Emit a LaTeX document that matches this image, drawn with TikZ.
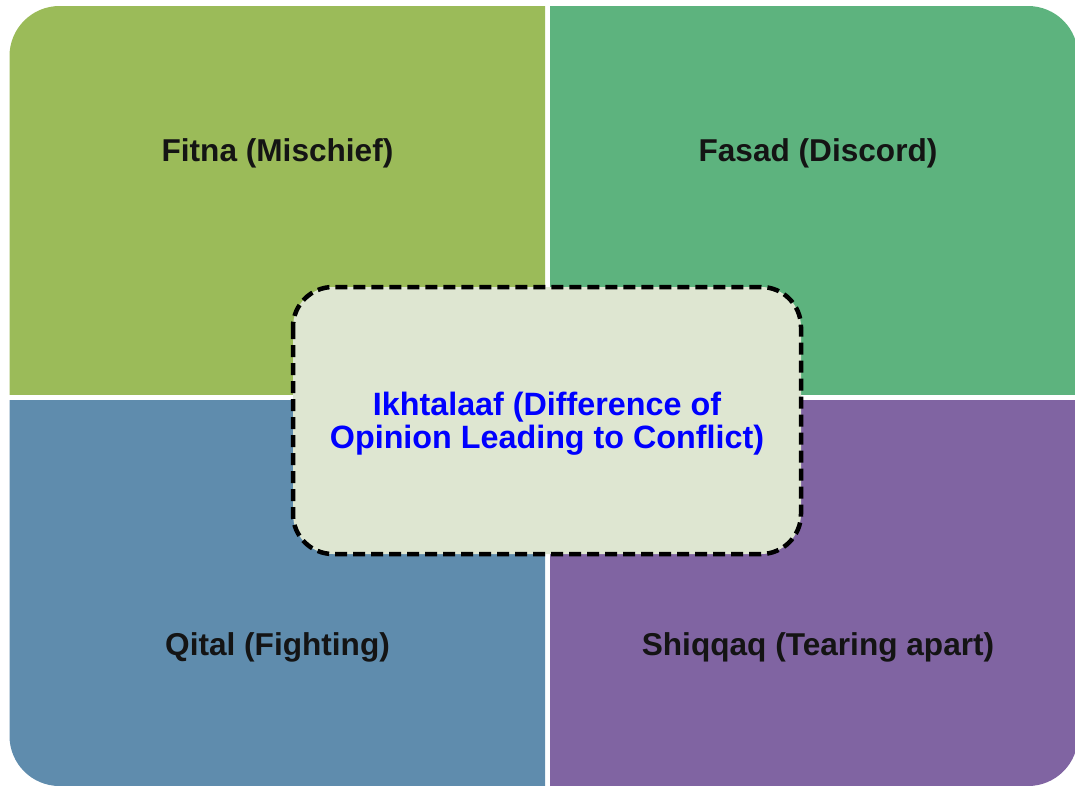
\documentclass[tikz,border=0pt]{standalone}
\usepackage{fontspec}
\setmainfont{Liberation Sans}
\begin{document}
\begin{tikzpicture}[x=1pt,y=-1pt,
  quadlabel/.style={font=\fontsize{31.6}{34}\selectfont\bfseries, text=black!92, anchor=base, inner sep=0pt},
  corebox/.style={draw=black, line width=4.5pt, dash pattern=on 12pt off 6pt, fill=coreFill, rounded corners=40pt},
  coretext/.style={font=\fontsize{32.3}{33}\selectfont\bfseries, text=coreText, align=center, inner sep=0pt, anchor=base}]
\definecolor{qOlive}{HTML}{9BBB59}
\definecolor{qGreen}{HTML}{5DB37E}
\definecolor{qBlue}{HTML}{5F8CAD}
\definecolor{qPurple}{HTML}{8064A2}
\definecolor{coreFill}{HTML}{DEE6D1}
\definecolor{coreText}{HTML}{0000FF}
\useasboundingbox (0,0) rectangle (1075,785);
% outer rounded block, split into four quadrants by white gaps
\newcommand\quadfill[2]{%
  \begin{scope}
    \clip #1;
    \fill[#2, rounded corners=50pt] (9.5,6) rectangle (1078,786);
  \end{scope}}
\quadfill{(0,0) rectangle (545,394)}{qOlive}
\quadfill{(550,0) rectangle (1100,394)}{qGreen}
\quadfill{(0,400) rectangle (545,800)}{qBlue}
\quadfill{(550,400) rectangle (1100,800)}{qPurple}
% quadrant labels
\node[quadlabel] (fitna) at (277.5,161) {Fitna (Mischief)};
\node[quadlabel] (fasad) at (818,161) {Fasad (Discord)};
\node[quadlabel] (qital) at (277.5,655) {Qital (Fighting)};
\node[quadlabel] (shiqqaq) at (818,655) {Shiqqaq (Tearing apart)};
% central dashed box
\draw[corebox] (293,287) rectangle (801,554);
\node[coretext] (core) at (547,448) {Ikhtalaaf (Difference of\\Opinion Leading to Conflict)};
\end{tikzpicture}
\end{document}
